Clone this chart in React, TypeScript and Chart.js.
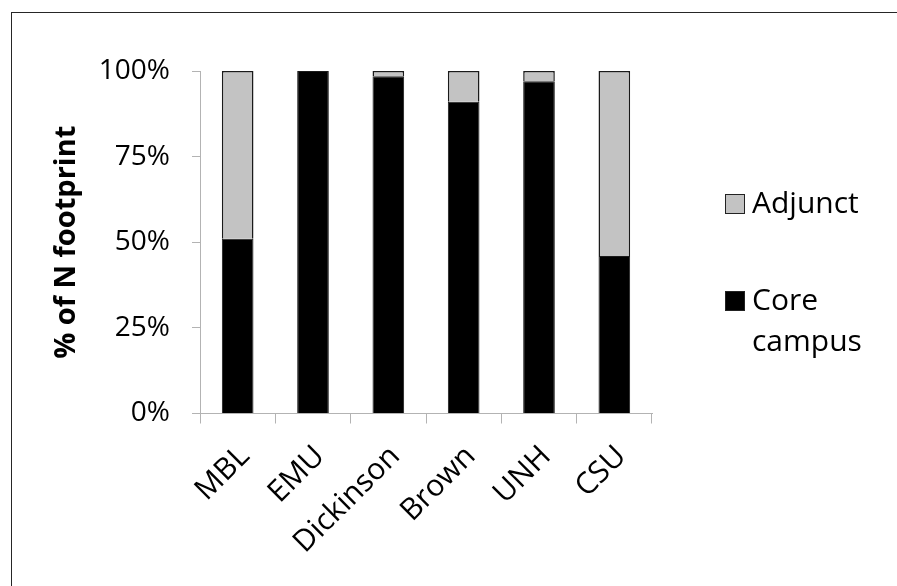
import React, { useEffect, useRef } from "react";
import { Chart, registerables } from "chart.js";

Chart.register(...registerables);

const categories = ["MBL", "EMU", "Dickinson", "Brown", "UNH", "CSU"];
const coreCampus = [51, 100, 98.5, 91, 97, 46];
const adjunct = [49, 0, 1.5, 9, 3, 54];
const yTicks = [0, 25, 50, 75, 100];
const legendLabels = [["Adjunct"], ["Core", "campus"]];

const FONT = "'Open Sans', 'DejaVu Sans', sans-serif";

const legendPlugin = {
  id: "customLegend",
  afterDraw(chart: any) {
    const ctx = chart.ctx;
    const ds = chart.data.datasets;
    const items = [
      { label: legendLabels[0], color: ds[1].backgroundColor, y: 204 },
      { label: legendLabels[1], color: ds[0].backgroundColor, y: 301 },
    ];
    ctx.save();
    ctx.font = `30px ${FONT}`;
    ctx.textBaseline = "middle";
    ctx.textAlign = "left";
    for (const it of items) {
      ctx.fillStyle = it.color;
      ctx.fillRect(725, it.y - 10, 20, 20);
      ctx.strokeStyle = "#222";
      ctx.lineWidth = 1;
      ctx.strokeRect(725.5, it.y - 9.5, 19, 19);
      ctx.fillStyle = "#000";
      it.label.forEach((line, i) => {
        ctx.fillText(line, 752, it.y + i * 41);
      });
    }
    ctx.restore();
  },
};

const xLabelPlugin = {
  id: "xLabels",
  afterDraw(chart: any) {
    const ctx = chart.ctx;
    const xs = chart.scales.x;
    ctx.save();
    ctx.font = `30px ${FONT}`;
    ctx.fillStyle = "#000";
    ctx.textAlign = "right";
    ctx.textBaseline = "middle";
    categories.forEach((lab, i) => {
      const px = xs.getPixelForTick(i);
      ctx.save();
      ctx.translate(px + 7, xs.top + 38);
      ctx.rotate(-Math.PI / 4);
      ctx.fillText(lab, 0, 0);
      ctx.restore();
    });
    ctx.restore();
  },
};

export default function App() {
  const ref = useRef<HTMLCanvasElement>(null);
  useEffect(() => {
    if (!ref.current) return;
    const chart = new Chart(ref.current, {
      type: "bar",
      data: {
        labels: categories,
        datasets: [
          {
            label: "Core campus",
            data: coreCampus,
            backgroundColor: "#000000",
            borderColor: "#1a1a1a",
            borderWidth: 1,
            barPercentage: 0.42,
            categoryPercentage: 1,
          },
          {
            label: "Adjunct",
            data: adjunct,
            backgroundColor: "#c3c3c3",
            borderColor: "#1a1a1a",
            borderWidth: 1.5,
            barPercentage: 0.42,
            categoryPercentage: 1,
          },
        ],
      },
      options: {
        animation: false,
        responsive: false,
        maintainAspectRatio: false,
        layout: { padding: { left: 0, top: 71, right: 245, bottom: 0 } },
        plugins: {
          legend: { display: false },
          tooltip: { enabled: false },
        },
        scales: {
          x: {
            stacked: true,
            afterFit: (s: any) => {
              s.height = 172.5;
            },
            grid: {
              display: true,
              drawOnChartArea: false,
              drawTicks: true,
              tickLength: 10,
              color: "#b3b3b3",
              offset: true,
            },
            border: { display: true, color: "#b3b3b3", width: 1 },
            ticks: {
              display: false,
            },
          },
          y: {
            stacked: true,
            min: 0,
            max: 100,
            afterFit: (s: any) => {
              s.width = 200;
            },
            afterBuildTicks: (s: any) => {
              s.ticks = yTicks.map((v) => ({ value: v }));
            },
            grid: {
              display: true,
              drawOnChartArea: false,
              drawTicks: true,
              tickLength: 8,
              color: "#b3b3b3",
            },
            border: { display: true, color: "#b3b3b3", width: 1 },
            ticks: {
              color: "#000",
              font: { family: FONT, size: 28 },
              padding: 22,
              callback: (v: any) => `${v}%`,
            },
            title: {
              display: true,
              text: "% of N footprint",
              color: "#000",
              font: { family: FONT, size: 29, weight: "bold" },
              padding: { top: 49, bottom: 0 },
            },
          },
        },
      },
      plugins: [legendPlugin, xLabelPlugin],
    });
    return () => chart.destroy();
  }, []);

  return (
    <div style={{ position: "fixed", left: 0, top: 0, width: 897, height: 586, background: "#fff" }}>
      <div
        style={{
          position: "absolute",
          left: 11,
          top: 12,
          width: 897 - 11,
          height: 586 - 12,
          borderTop: "1.5px solid #262626",
          borderLeft: "1.5px solid #262626",
          boxSizing: "border-box",
        }}
      />
      <canvas ref={ref} width={897} height={586} style={{ position: "absolute", left: 0, top: 0 }} />
    </div>
  );
}
